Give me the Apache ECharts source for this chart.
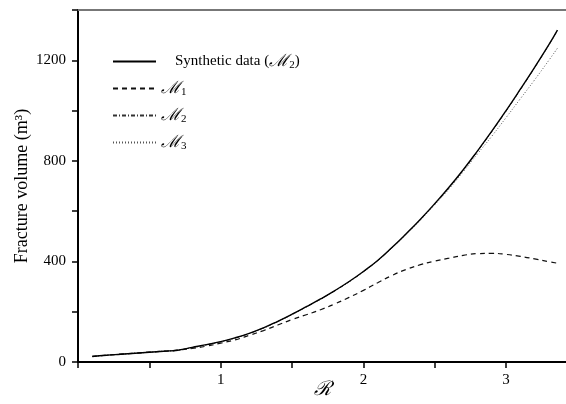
<!DOCTYPE html>
<html>
<head>
<meta charset="utf-8">
<script src="https://cdn.jsdelivr.net/npm/echarts@6/dist/echarts.min.js"></script>
<style>html,body{margin:0;padding:0;background:#fff}#c{width:566px;height:404px}</style>
</head>
<body>
<div id="c"></div>
<script>
var R = [0.1,0.2,0.3,0.4,0.5,0.6,0.7,0.8,0.9,1.0,1.1,1.2,1.3,1.4,1.5,1.6,1.7,1.8,1.9,2.0,2.1,2.2,2.3,2.4,2.5,2.6,2.7,2.8,2.9,3.0,3.1,3.2,3.3,3.36];
var synthetic = [22,27,31,35,39,43,47,58,69,81,96,114,136,162,190,220,251,284,320,360,404,455,510,568,630,695,765,840,918,1000,1085,1172,1262,1320];
var m1 = [22,27,31,35,39,43,47,54,63,75,88,106,125,147,169,188,208,231,257,285,315,344,368,387,401,413,424,431,432,428,420,410,399,393];
var m2 = [22,27,31,35,39,43,47,57,68,80,95,113,135,161,189,219,250,283,319,359,403,454,509,567,628,693,763,838,916,998,1083,1170,1261,1319];
var m3 = [22,27,31,35,39,43,47,57,68,80,95,113,135,161,189,219,250,283,319,359,403,453,508,565,625,688,757,828,898,972,1047,1122,1200,1248];
var yTickLabels = [0,400,800,1200];
var xTickLabels = [1,2,3];

function pairs(ys){ return R.map(function(x,i){return [x, ys[i]];}); }

var serif = "'Liberation Serif','DejaVu Serif',serif";
var legendText = {
  'synthetic': '{t|Synthetic data (}{m|ℳ}{s|2}{t|)}',
  'M1': '{m|ℳ}{s|1}',
  'M2': '{m|ℳ}{s|2}',
  'M3': '{m|ℳ}{s|3}'
};
var rich = {
  t:{fontFamily:serif,fontSize:15,color:'#000'},
  m:{fontFamily:serif,fontSize:17,fontStyle:'italic',color:'#000'},
  s:{fontFamily:serif,fontSize:11,color:'#000',verticalAlign:'bottom',padding:[8,0,0,0]}
};

var chart = echarts.init(document.getElementById('c'));
chart.setOption({
  animation:false,
  grid:{left:78,top:10,right:0,bottom:42,containLabel:false,outerBoundsMode:'none'},
  legend:{
    left:107, top:48, orient:'vertical', itemWidth:43, itemHeight:10, itemGap:9,
    itemStyle:{opacity:0},
    data:[
      {name:'synthetic', textStyle:{padding:[0,0,0,14]}},
      {name:'M1'},{name:'M2'},{name:'M3'}
    ],
    formatter:function(n){return legendText[n];},
    textStyle:{rich:rich, fontFamily:serif}
  },
  xAxis:[{
    type:'value', min:0, max:3.42, interval:0.5, position:'bottom',
    name:'ℛ', nameLocation:'middle', nameGap:18, nameMoveOverlap:false,
    nameTextStyle:{fontFamily:serif,fontSize:20,fontStyle:'italic',color:'#000'},
    axisLine:{lineStyle:{color:'#000',width:2}},
    axisTick:{show:true,length:6,lineStyle:{color:'#000',width:1.5}},
    axisLabel:{
      margin:11, color:'#000', fontFamily:serif, fontSize:15, showMaxLabel:false,
      formatter:function(v){ return xTickLabels.indexOf(v)>=0 ? String(v) : ''; }
    },
    splitLine:{show:false}
  },{
    type:'value', min:0, max:3.42, position:'top',
    axisLine:{show:true,lineStyle:{color:'#777',width:2}},
    axisTick:{show:false}, axisLabel:{show:false}, splitLine:{show:false}
  }],
  yAxis:{
    type:'value', min:0, max:1400, interval:200,
    name:'Fracture volume (m³)', nameLocation:'middle', nameGap:47, nameMoveOverlap:false,
    nameTextStyle:{fontFamily:serif,fontSize:18,color:'#000'},
    axisLine:{show:true,lineStyle:{color:'#000',width:2}},
    axisTick:{show:true,length:6,lineStyle:{color:'#000',width:1.5}},
    axisLabel:{
      margin:12, color:'#000', fontFamily:serif, fontSize:15,
      formatter:function(v){ return yTickLabels.indexOf(v)>=0 ? String(v) : ''; }
    },
    splitLine:{show:false}
  },
  series:[
    {name:'synthetic', type:'line', symbol:'none', smooth:true, data:pairs(synthetic),
     lineStyle:{color:'#000',width:1.4,type:'solid'}, z:5},
    {name:'M1', type:'line', symbol:'none', smooth:true, data:pairs(m1),
     lineStyle:{color:'#111',width:1.2,type:[5,4]}},
    {name:'M2', type:'line', symbol:'none', smooth:true, data:pairs(m2),
     lineStyle:{color:'#333',width:1,type:[4,2,1,2]}},
    {name:'M3', type:'line', symbol:'none', smooth:true, data:pairs(m3),
     lineStyle:{color:'#555',width:1,type:[1,2]}}
  ]
});
</script>
</body>
</html>
